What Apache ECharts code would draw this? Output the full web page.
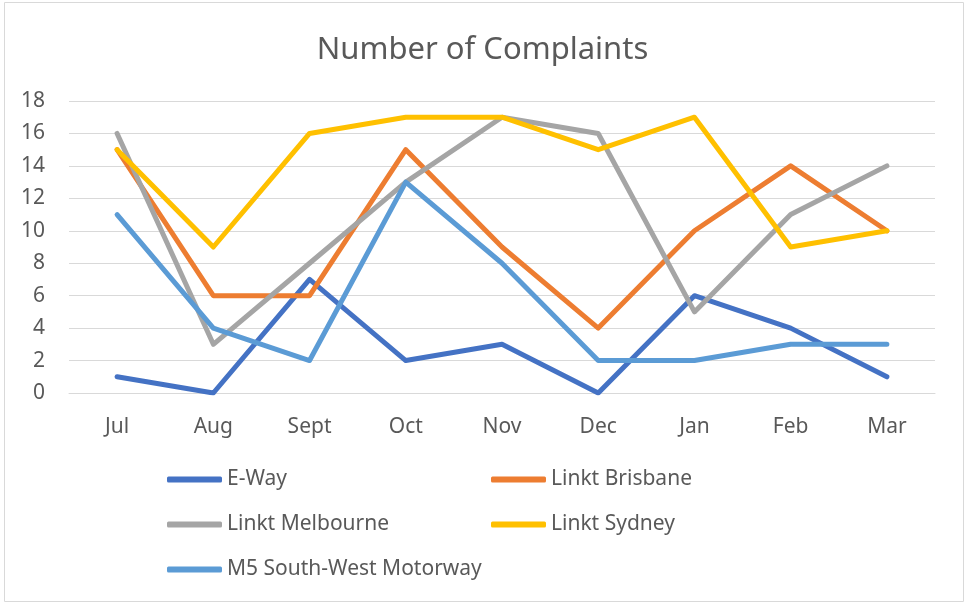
<!DOCTYPE html>
<html>
<head>
<meta charset="utf-8">
<title>Number of Complaints</title>
<script src="https://cdn.jsdelivr.net/npm/echarts@6/dist/echarts.min.js"></script>
<style>
  html, body { margin: 0; padding: 0; background: #fff; }
  #chart { width: 965px; height: 603px; }
</style>
</head>
<body>
<div id="chart"></div>
<script>
// data
var months = ['Jul', 'Aug', 'Sept', 'Oct', 'Nov', 'Dec', 'Jan', 'Feb', 'Mar']
var eWay = [1, 0, 7, 2, 3, 0, 6, 4, 1]
var linktBrisbane = [15, 6, 6, 15, 9, 4, 10, 14, 10]
var linktMelbourne = [16, 3, 8, 13, 17, 16, 5, 11, 14]
var linktSydney = [15, 9, 16, 17, 17, 15, 17, 9, 10]
var m5 = [11, 4, 2, 13, 8, 2, 2, 3, 3]
var yTicks = [0, 2, 4, 6, 8, 10, 12, 14, 16, 18]

var seriesList = [
  { name: 'E-Way', data: eWay, color: '#4472C4' },
  { name: 'Linkt Brisbane', data: linktBrisbane, color: '#ED7D31' },
  { name: 'Linkt Melbourne', data: linktMelbourne, color: '#A5A5A5' },
  { name: 'Linkt Sydney', data: linktSydney, color: '#FFC000' },
  { name: 'M5 South-West Motorway', data: m5, color: '#5B9BD5' }
]

var font = 'Noto Sans'
var textColor = '#595959'

// legend laid out like Excel: two columns, three rows
var legendPos = [
  { left: 167, top: 469 },
  { left: 491, top: 469 },
  { left: 167, top: 514 },
  { left: 491, top: 514 },
  { left: 167, top: 559 }
]

var chart = echarts.init(document.getElementById('chart'))
chart.setOption({
  animation: false,
  title: {
    text: 'Number of Complaints',
    left: 'center',
    top: 30,
    textStyle: { fontFamily: font, fontSize: 31, fontWeight: 'normal', color: textColor }
  },
  graphic: [{
    type: 'rect',
    shape: { x: 4.5, y: 2.5, width: 959, height: 599 },
    style: { fill: 'none', stroke: '#d9d9d9', lineWidth: 1 },
    silent: true
  }],
  legend: seriesList.map(function (s, i) {
    return {
      data: [s.name],
      left: legendPos[i].left,
      top: legendPos[i].top,
      padding: 0,
      itemWidth: 55,
      itemHeight: 6,
      icon: 'roundRect',
      selectedMode: false,
      textStyle: { fontFamily: font, fontSize: 21, color: textColor, padding: [0, 0, 0, 0] }
    }
  }),
  grid: { left: 69, right: 30, top: 101, bottom: 210 },
  xAxis: {
    type: 'category',
    data: months,
    boundaryGap: true,
    axisLine: { show: true, lineStyle: { color: '#d9d9d9', width: 1 } },
    axisTick: { show: false },
    axisLabel: { fontFamily: font, fontSize: 21, color: textColor, margin: 24 }
  },
  yAxis: {
    type: 'value',
    min: yTicks[0],
    max: yTicks[yTicks.length - 1],
    interval: 2,
    axisLine: { show: false },
    axisTick: { show: false },
    axisLabel: { fontFamily: font, fontSize: 21, color: textColor, margin: 24 },
    splitLine: { lineStyle: { color: '#d9d9d9', width: 1 } }
  },
  series: seriesList.map(function (s) {
    return {
      name: s.name,
      type: 'line',
      data: s.data,
      showSymbol: false,
      symbol: 'none',
      color: s.color,
      lineStyle: { width: 5, color: s.color, cap: 'round', join: 'round' }
    }
  })
})
</script>
</body>
</html>
